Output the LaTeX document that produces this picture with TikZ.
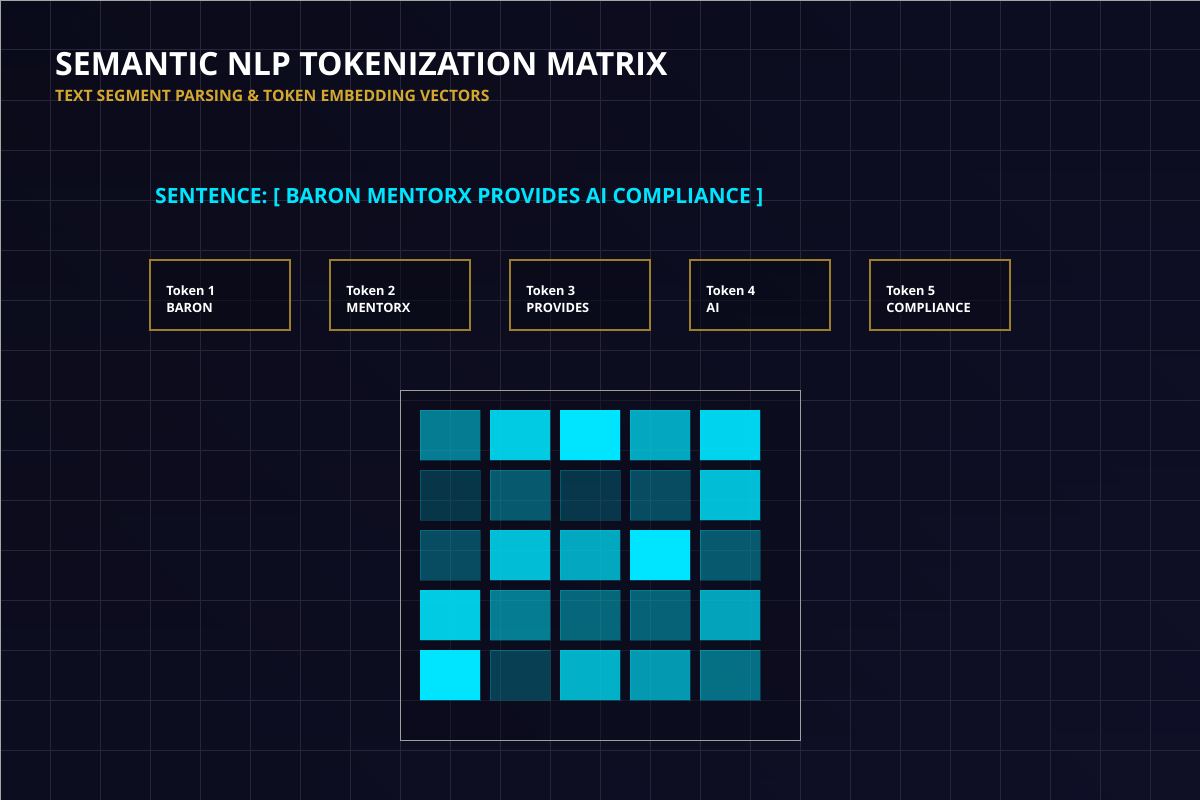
\documentclass[tikz,border=0pt]{standalone}
\usepackage{fontspec}
\setmainfont{Open Sans}
\definecolor{bgA}{HTML}{0A0A17}
\definecolor{bgB}{HTML}{10112A}
\definecolor{gridc}{HTML}{262638}
\definecolor{cyanc}{HTML}{00E5FF}
\definecolor{goldc}{HTML}{D4A82E}
\definecolor{boxgold}{HTML}{9E7E26}
\tikzset{
  gridline/.style={draw=gridc, line width=1pt},
  tokbox/.style={draw=boxgold, line width=1.5pt, fill=bgA, fill opacity=0.6, text opacity=1, minimum width=140pt, minimum height=70pt, inner sep=0pt},
  toktext/.style={text=white, font=\bfseries\fontsize{12.8}{18}\selectfont, anchor=base west, inner sep=0pt},
  cell/.style={draw=cyanc, draw opacity=0.2, line width=0.6pt, fill=cyanc, minimum width=60pt, minimum height=50pt, inner sep=0pt},
}
\begin{document}
\begin{tikzpicture}[x=1pt,y=-1pt]
\useasboundingbox (0,0) rectangle (1200,800);
\shade[left color=bgA, right color=bgB, shading angle=135] (0,0) rectangle (1200,800);
\shade[top color=bgA, bottom color=bgB, opacity=0.5] (0,0) rectangle (1200,800);
\foreach \x in {50,100,...,1150} \draw[gridline] (\x,0) -- (\x,800);
\foreach \y in {50,100,...,750} \draw[gridline] (0,\y) -- (1200,\y);
\draw[draw=gray!70, line width=1.2pt] (0,800) -- (0,0) -- (1200,0);
% titles
\node[anchor=base west, inner sep=0pt, text=white, font=\bfseries\fontsize{32}{36}\selectfont] (title) at (55,76) {SEMANTIC NLP TOKENIZATION MATRIX};
\node[anchor=base west, inner sep=0pt, text=goldc, font=\bfseries\fontsize{15.7}{18}\selectfont] (subtitle) at (55,102) {TEXT SEGMENT PARSING \& TOKEN EMBEDDING VECTORS};
\node[anchor=base west, inner sep=0pt, text=cyanc, font=\bfseries\fontsize{21}{25}\selectfont] (sentence) at (155,203) {SENTENCE: [ BARON MENTORX PROVIDES AI COMPLIANCE ]};
% tokens
\foreach \i/\w in {1/BARON,2/MENTORX,3/PROVIDES,4/AI,5/COMPLIANCE} {
  \node[tokbox] (tok\i) at ({220+180*(\i-1)},295) {};
  \node[toktext] (tl\i) at ([xshift=17pt,yshift=-0.5pt]tok\i.west) {Token \i};
  \node[toktext] (tw\i) at ([xshift=17pt,yshift=-17.5pt]tok\i.west) {\w};
}
% matrix frame
\node[draw=gray!75, line width=1pt, fill=bgA, fill opacity=0.4, minimum width=400pt, minimum height=350pt, inner sep=0pt] (frame) at (600,565) {};
\foreach \r/\vals in {1/{0.52,0.88,1.0,0.72,0.92},2/{0.2,0.36,0.2,0.3,0.82},3/{0.3,0.82,0.72,1.0,0.36},4/{0.88,0.52,0.42,0.4,0.7},5/{1.0,0.24,0.76,0.66,0.46}} {
  \foreach \v [count=\c] in \vals {
    \node[cell, fill opacity=\v] (c\r\c) at ({450+70*(\c-1)},{435+60*(\r-1)}) {};
  }
}
\end{tikzpicture}
\end{document}
